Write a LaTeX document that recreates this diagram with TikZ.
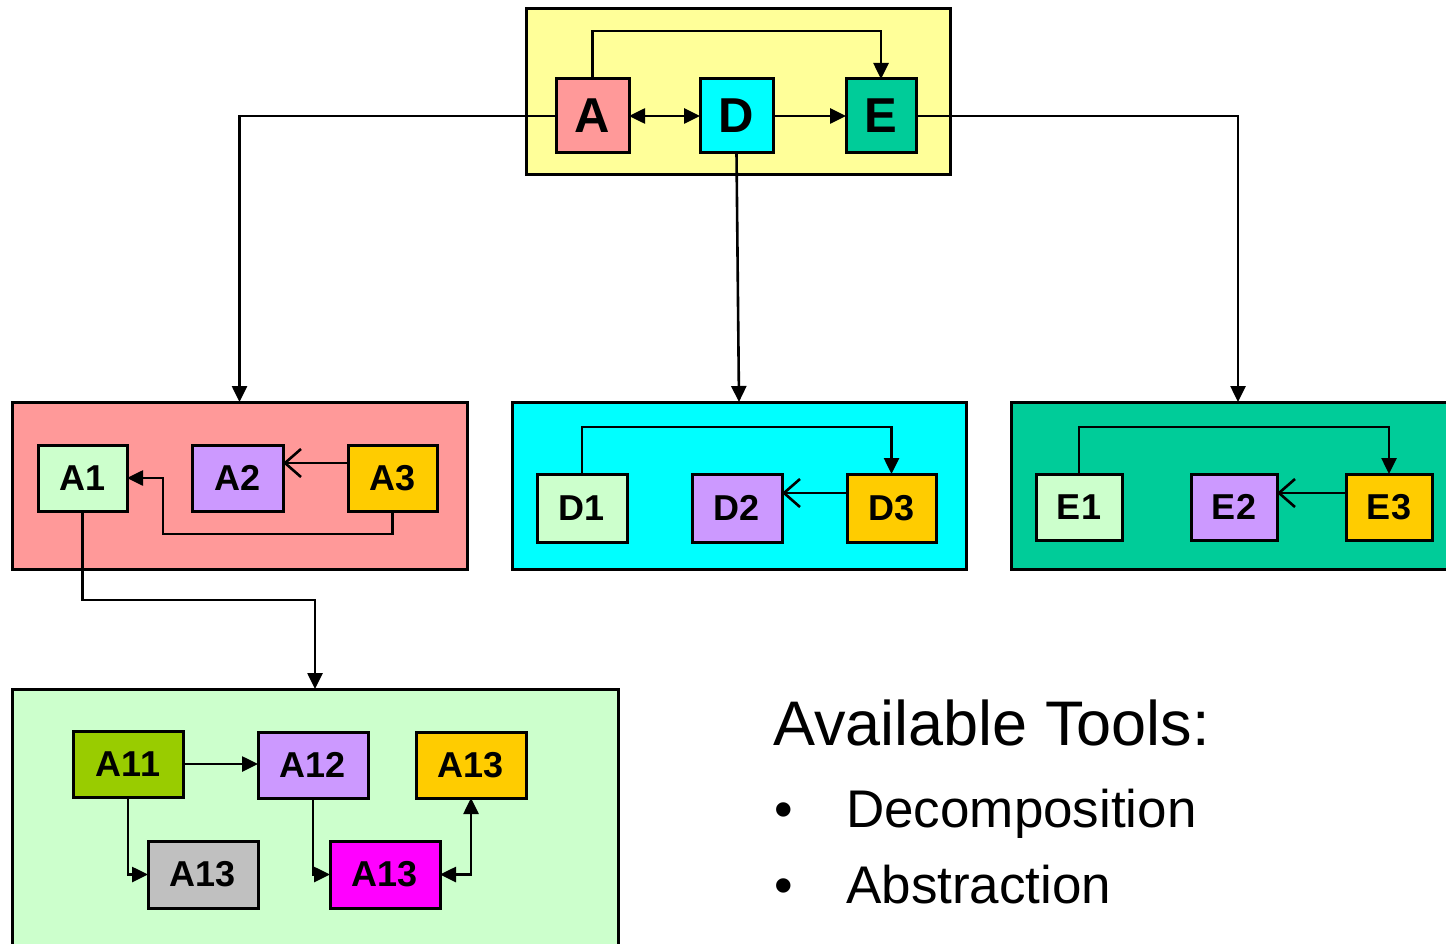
\documentclass[tikz,border=0pt]{standalone}
\usepackage{fontspec}
\setmainfont{Liberation Sans}
\usetikzlibrary{arrows.meta}
\definecolor{cYellow}{HTML}{FFFF99}
\definecolor{cRose}{HTML}{FF9999}
\definecolor{cCyan}{HTML}{00FFFF}
\definecolor{cTeal}{HTML}{00CC99}
\definecolor{cMint}{HTML}{CCFFCC}
\definecolor{cLilac}{HTML}{CC99FF}
\definecolor{cGold}{HTML}{FFCC00}
\definecolor{cOlive}{HTML}{99CC00}
\definecolor{cSilver}{HTML}{C0C0C0}
\definecolor{cMagenta}{HTML}{FF00FF}
\tikzset{
  group/.style={draw=black, line width=3pt, inner sep=0pt, outer sep=0pt, anchor=north west},
  blk/.style={draw=black, line width=3pt, inner sep=0pt, outer sep=0pt,
    font=\fontsize{36}{40}\selectfont\bfseries},
  big/.style={blk, font=\fontsize{49}{52}\selectfont\bfseries},
  conn/.style={line width=2.6pt, -{Triangle[length=16pt,width=15pt]}},
  biconn/.style={line width=2.6pt, {Triangle[length=16pt,width=15pt]}-{Triangle[length=16pt,width=15pt]}},
  openconn/.style={line width=2.6pt, -{Straight Barb[length=16pt,width=28pt,line width=2.6pt]}},
}
\begin{document}
\begin{tikzpicture}[x=1pt,y=-1pt]
\useasboundingbox (0,0) rectangle (1446,944);
\clip (0,0) rectangle (1446,944);
\fill[white] (0,0) rectangle (1446,944);

% group frames
\node[group, fill=cYellow, minimum width=424, minimum height=166] (top) at (526,9) {};
\node[group, fill=cRose, minimum width=455, minimum height=167] (boxA) at (12,402) {};
\node[group, fill=cCyan, minimum width=454, minimum height=167] (boxD) at (512,402) {};
\node[group, fill=cTeal, minimum width=454, minimum height=167] (boxE) at (1011,402) {};
\node[group, fill=cMint, minimum width=606, minimum height=290] (boxA1) at (12,689) {};

% top level
\node[big, fill=cRose, minimum width=73, minimum height=74] (A) at (592.5,116) {A};
\node[big, fill=cCyan, minimum width=73, minimum height=74] (D) at (736.5,116) {D};
\node[big, fill=cTeal, minimum width=70, minimum height=74] (E) at (881,116) {E};

\coordinate (topbend) at (700,31);
\draw[conn] (A.north) |- (topbend) -| (E.north);
\draw[biconn] (A.east) -- (D.west);
\draw[conn] (D.east) -- (E.west);
\draw[conn] (A.west) -| (boxA.north);
\draw[conn] (E.east) -| (boxE.north);
\draw[conn] (D.south) -- (boxD.north);

% A decomposition
\node[blk, fill=cMint, minimum width=89, minimum height=66] (A1) at (82.5,478) {A1};
\node[blk, fill=cLilac, minimum width=91, minimum height=66] (A2) at (237.5,478) {A2};
\node[blk, fill=cGold, minimum width=89, minimum height=66] (A3) at (392.5,478) {A3};
\draw[openconn] ([yshift=15pt]A3.west) -- ([yshift=15pt]A2.east);
\coordinate (a3bend) at (163,534);
\draw[conn] (A3.south) |- (a3bend) |- (A1.east);
\coordinate (a1bend) at (200,600);
\draw[conn] (A1.south) |- (a1bend) -| (boxA1.north);

% D decomposition
\node[blk, fill=cMint, minimum width=90, minimum height=68] (D1) at (582,508) {D1};
\node[blk, fill=cLilac, minimum width=90, minimum height=68] (D2) at (737,508) {D2};
\node[blk, fill=cGold, minimum width=89, minimum height=68] (D3) at (891.5,508) {D3};
\coordinate (dbend) at (740,427);
\draw[conn] (D1.north) |- (dbend) -| (D3.north);
\draw[openconn] ([yshift=15pt]D3.west) -- ([yshift=15pt]D2.east);

% E decomposition
\node[blk, fill=cMint, minimum width=86, minimum height=66] (E1) at (1079,507) {E1};
\node[blk, fill=cLilac, minimum width=86, minimum height=66] (E2) at (1234,507) {E2};
\node[blk, fill=cGold, minimum width=86, minimum height=66] (E3) at (1389,507) {E3};
\coordinate (ebend) at (1230,427);
\draw[conn] (E1.north) |- (ebend) -| (E3.north);
\draw[openconn] ([yshift=14pt]E3.west) -- ([yshift=14pt]E2.east);

% A1 decomposition
\node[blk, fill=cOlive, minimum width=110, minimum height=66] (A11) at (128,764) {A11};
\node[blk, fill=cLilac, minimum width=110, minimum height=66] (A12) at (313,765) {A12};
\node[blk, fill=cGold, minimum width=110, minimum height=66] (A13a) at (471,765) {A13};
\node[blk, fill=cSilver, minimum width=110, minimum height=67] (A13b) at (203,874.5) {A13};
\node[blk, fill=cMagenta, minimum width=110, minimum height=67] (A13c) at (385,874.5) {A13};
\draw[conn] (A11.east) -- (A11.east -| A12.west);
\draw[conn] (A11.south) |- (A13b.west);
\draw[conn] (A12.south) |- (A13c.west);
\draw[biconn] (A13c.east) -| (A13a.south);

% caption text
\node[anchor=base west, inner sep=0pt, font=\fontsize{63}{70}\selectfont] (title) at (773,745) {Available Tools:};
\node[anchor=base west, inner sep=0pt, font=\fontsize{53}{60}\selectfont] (b1) at (774,827) {•};
\node[anchor=base west, inner sep=0pt, font=\fontsize{53}{60}\selectfont] (t1) at (846,827) {Decomposition};
\node[anchor=base west, inner sep=0pt, font=\fontsize{53}{60}\selectfont] (b2) at (774,903) {•};
\node[anchor=base west, inner sep=0pt, font=\fontsize{53}{60}\selectfont] (t2) at (846,903) {Abstraction};
\end{tikzpicture}
\end{document}
